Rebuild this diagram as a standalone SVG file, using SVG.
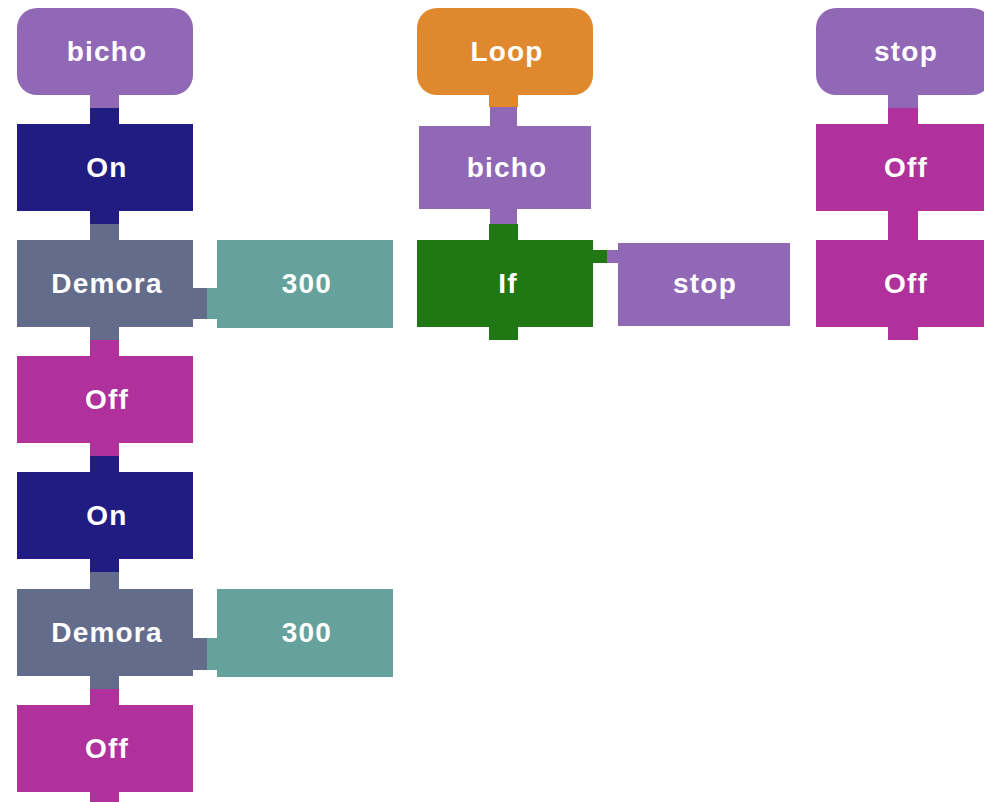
<svg xmlns="http://www.w3.org/2000/svg" width="984" height="802" viewBox="0 0 984 802">
<style>
text{font-family:"Liberation Sans",Arial,sans-serif;font-weight:bold;font-size:28px;fill:#fff;text-anchor:middle;letter-spacing:1.2px}
.pur{fill:#9068B6}.blu{fill:#211C82}.gry{fill:#646C8C}.tea{fill:#65A29C}.mag{fill:#B0309C}.grn{fill:#1F7814}.org{fill:#E0882E}
</style>
<rect width="984" height="802" fill="#fff"/>
<g id="connectors">
<rect class="pur" x="90" y="95" width="29" height="13"/>
<rect class="blu" x="90" y="108" width="29" height="16"/>
<rect class="blu" x="90" y="211" width="29" height="13"/>
<rect class="gry" x="90" y="224" width="29" height="16"/>
<rect class="gry" x="90" y="327" width="29" height="13"/>
<rect class="mag" x="90" y="340" width="29" height="16"/>
<rect class="mag" x="90" y="443" width="29" height="13"/>
<rect class="blu" x="90" y="456" width="29" height="16"/>
<rect class="blu" x="90" y="559" width="29" height="13"/>
<rect class="gry" x="90" y="572" width="29" height="17"/>
<rect class="gry" x="90" y="676" width="29" height="13"/>
<rect class="mag" x="90" y="689" width="29" height="16"/>
<rect class="mag" x="90" y="792" width="29" height="10"/>
<rect class="gry" x="193" y="288" width="14" height="31"/>
<rect class="tea" x="207" y="288" width="10" height="31"/>
<rect class="gry" x="193" y="638" width="14" height="32"/>
<rect class="tea" x="207" y="638" width="10" height="32"/>
<rect class="org" x="489" y="95" width="29" height="12"/>
<rect class="pur" x="490" y="107" width="27" height="19"/>
<rect class="pur" x="490" y="209" width="27" height="15"/>
<rect class="grn" x="489" y="224" width="29" height="16"/>
<rect class="grn" x="489" y="327" width="29" height="13"/>
<rect class="grn" x="593" y="250" width="14" height="13"/>
<rect class="pur" x="607" y="250" width="11" height="13"/>
<rect class="pur" x="888" y="95" width="30" height="13"/>
<rect class="mag" x="888" y="108" width="30" height="16"/>
<rect class="mag" x="888" y="211" width="30" height="29"/>
<rect class="mag" x="888" y="327" width="30" height="13"/>
</g>
<g id="n-bicho1"><rect class="pur" x="17" y="8" width="176" height="87" rx="20"/><text x="107" y="61">bicho</text></g>
<g id="n-on1"><rect class="blu" x="17" y="124" width="176" height="87"/><text x="107" y="177">On</text></g>
<g id="n-demora1"><rect class="gry" x="17" y="240" width="176" height="87"/><text x="107" y="293">Demora</text></g>
<g id="n-300a"><rect class="tea" x="217" y="240" width="176" height="88"/><text x="307" y="293">300</text></g>
<g id="n-off1"><rect class="mag" x="17" y="356" width="176" height="87"/><text x="107" y="409">Off</text></g>
<g id="n-on2"><rect class="blu" x="17" y="472" width="176" height="87"/><text x="107" y="525">On</text></g>
<g id="n-demora2"><rect class="gry" x="17" y="589" width="176" height="87"/><text x="107" y="642">Demora</text></g>
<g id="n-300b"><rect class="tea" x="217" y="589" width="176" height="88"/><text x="307" y="642">300</text></g>
<g id="n-off2"><rect class="mag" x="17" y="705" width="176" height="87"/><text x="107" y="758">Off</text></g>
<g id="n-loop"><rect class="org" x="417" y="8" width="176" height="87" rx="20"/><text x="507" y="61">Loop</text></g>
<g id="n-bicho2"><rect class="pur" x="419" y="126" width="172" height="83"/><text x="507" y="177">bicho</text></g>
<g id="n-if"><rect class="grn" x="417" y="240" width="176" height="87"/><text x="508" y="293">If</text></g>
<g id="n-stop1"><rect class="pur" x="618" y="243" width="172" height="83"/><text x="705" y="293">stop</text></g>
<g id="n-stop2"><rect class="pur" x="816" y="8" width="176" height="87" rx="20"/><text x="906" y="61">stop</text></g>
<g id="n-off3"><rect class="mag" x="816" y="124" width="176" height="87"/><text x="906" y="177">Off</text></g>
<g id="n-off4"><rect class="mag" x="816" y="240" width="176" height="87"/><text x="906" y="293">Off</text></g>
</svg>
